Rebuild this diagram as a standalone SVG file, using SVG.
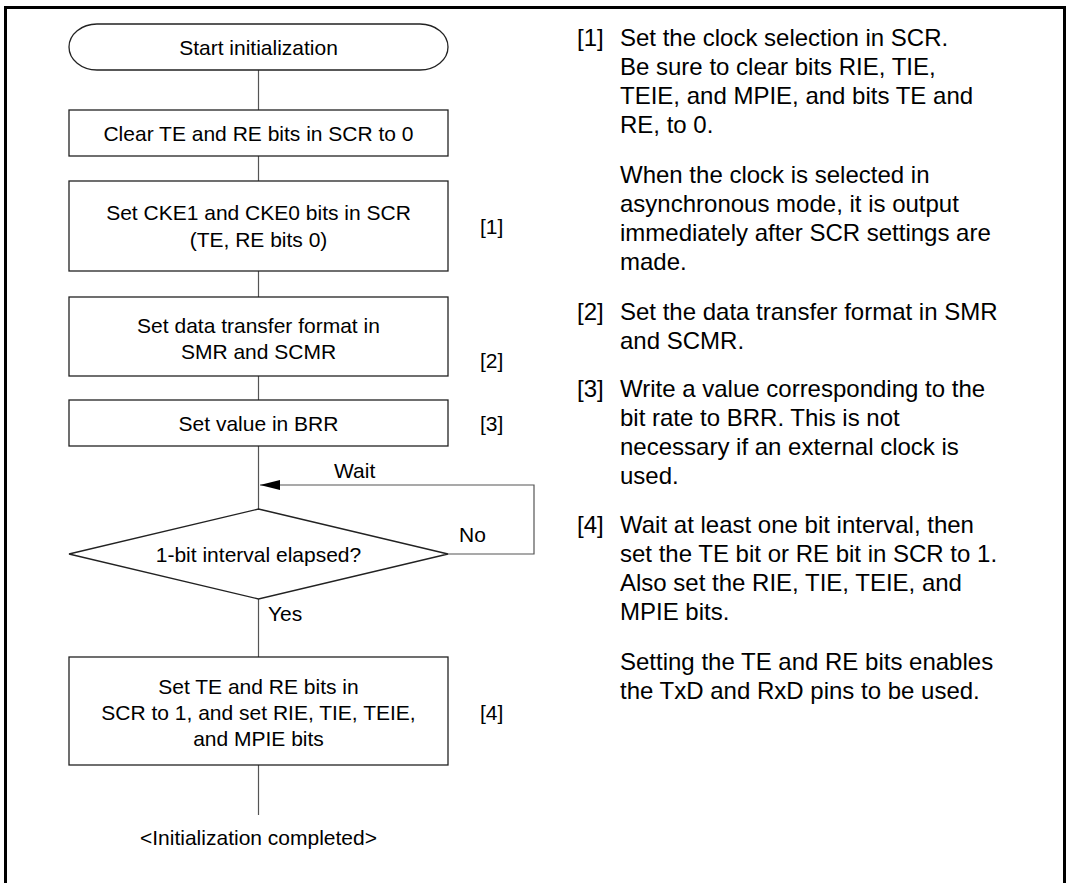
<svg xmlns="http://www.w3.org/2000/svg" width="1071" height="883" viewBox="0 0 1071 883">
<style>
.box{fill:#fff;stroke:#222;stroke-width:1.3}
.ln{fill:none;stroke:#555;stroke-width:1.2}
.t{font-family:"Liberation Sans",Arial,sans-serif;font-size:21px;fill:#000}
.c{text-anchor:middle}
.r{font-family:"Liberation Sans",Arial,sans-serif;font-size:24px;fill:#000}
</style>
<defs>
<marker id="ah" markerWidth="20" markerHeight="10" refX="20" refY="5" orient="auto" markerUnits="userSpaceOnUse">
<path d="M0,0 L20,5 L0,10 Z" fill="#000"/>
</marker>
</defs>
<rect x="0" y="0" width="1071" height="883" fill="#fff"/>
<rect x="5.5" y="7.5" width="1059" height="890" fill="none" stroke="#000" stroke-width="3"/>
<g id="connectors">
<line class="ln" x1="258.5" y1="70" x2="258.5" y2="110"/>
<line class="ln" x1="258.5" y1="156" x2="258.5" y2="181"/>
<line class="ln" x1="258.5" y1="271" x2="258.5" y2="297"/>
<line class="ln" x1="258.5" y1="376" x2="258.5" y2="400"/>
<line class="ln" x1="258.5" y1="446" x2="258.5" y2="509"/>
<line class="ln" x1="258.5" y1="599" x2="258.5" y2="657"/>
<line class="ln" x1="258.5" y1="765" x2="258.5" y2="815"/>
<polyline class="ln" points="448,554 534,554 534,485 260,485" marker-end="url(#ah)"/>
<text class="t" x="334" y="478">Wait</text>
<text class="t" x="459" y="542">No</text>
<text class="t" x="268" y="621">Yes</text>
</g>
<g id="start">
<rect class="box" x="69" y="24" width="379" height="46" rx="28" ry="23"/>
<text class="t c" x="258.5" y="55">Start initialization</text>
</g>
<g id="clear">
<rect class="box" x="69" y="110" width="379" height="46"/>
<text class="t c" x="258.5" y="141">Clear TE and RE bits in SCR to 0</text>
</g>
<g id="cke">
<rect class="box" x="69" y="181" width="379" height="90"/>
<text class="t c" x="258.5" y="220">Set CKE1 and CKE0 bits in SCR</text>
<text class="t c" x="258.5" y="247">(TE, RE bits 0)</text>
<text class="t" x="480" y="234">[1]</text>
</g>
<g id="format">
<rect class="box" x="69" y="297" width="379" height="79"/>
<text class="t c" x="258.5" y="333">Set data transfer format in</text>
<text class="t c" x="258.5" y="359">SMR and SCMR</text>
<text class="t" x="480" y="368">[2]</text>
</g>
<g id="brr">
<rect class="box" x="69" y="400" width="379" height="46"/>
<text class="t c" x="258.5" y="431">Set value in BRR</text>
<text class="t" x="480" y="431">[3]</text>
</g>
<g id="decision">
<polygon class="box" points="258.5,509 448,554 258.5,599 69,554"/>
<text class="t c" x="258.5" y="562">1-bit interval elapsed?</text>
</g>
<g id="enable">
<rect class="box" x="69" y="657" width="379" height="108"/>
<text class="t c" x="258.5" y="694">Set TE and RE bits in</text>
<text class="t c" x="258.5" y="720">SCR to 1, and set RIE, TIE, TEIE,</text>
<text class="t c" x="258.5" y="746">and MPIE bits</text>
<text class="t" x="480" y="720">[4]</text>
</g>
<g id="end">
<text class="t c" x="258.5" y="845">&lt;Initialization completed&gt;</text>
</g>
<g id="notes">
<text class="r" x="577" y="46">[1]</text>
<text class="r" x="620" y="46">Set the clock selection in SCR.</text>
<text class="r" x="620" y="75">Be sure to clear bits RIE, TIE,</text>
<text class="r" x="620" y="104">TEIE, and MPIE, and bits TE and</text>
<text class="r" x="620" y="133">RE, to 0.</text>
<text class="r" x="620" y="183">When the clock is selected in</text>
<text class="r" x="620" y="212">asynchronous mode, it is output</text>
<text class="r" x="620" y="241">immediately after SCR settings are</text>
<text class="r" x="620" y="270">made.</text>
<text class="r" x="577" y="320">[2]</text>
<text class="r" x="620" y="320">Set the data transfer format in SMR</text>
<text class="r" x="620" y="349">and SCMR.</text>
<text class="r" x="577" y="397">[3]</text>
<text class="r" x="620" y="397">Write a value corresponding to the</text>
<text class="r" x="620" y="426">bit rate to BRR. This is not</text>
<text class="r" x="620" y="455">necessary if an external clock is</text>
<text class="r" x="620" y="484">used.</text>
<text class="r" x="577" y="533">[4]</text>
<text class="r" x="620" y="533">Wait at least one bit interval, then</text>
<text class="r" x="620" y="562">set the TE bit or RE bit in SCR to 1.</text>
<text class="r" x="620" y="591">Also set the RIE, TIE, TEIE, and</text>
<text class="r" x="620" y="620">MPIE bits.</text>
<text class="r" x="620" y="670">Setting the TE and RE bits enables</text>
<text class="r" x="620" y="699">the TxD and RxD pins to be used.</text>
</g>
</svg>
